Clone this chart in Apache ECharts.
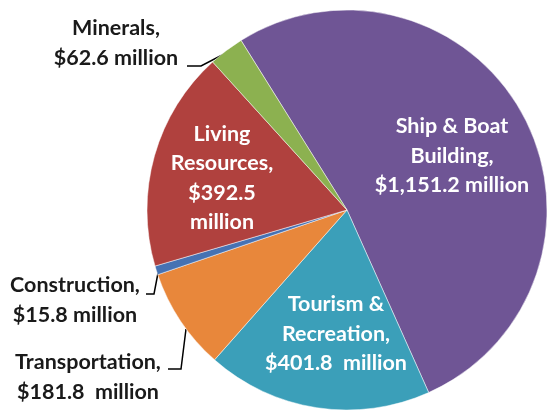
<!DOCTYPE html>
<html>
<head>
<meta charset="utf-8">
<script src="https://cdn.jsdelivr.net/npm/echarts@6/dist/echarts.min.js"></script>
<style>
  html, body { margin: 0; padding: 0; background: #fff; }
  #chart { width: 548px; height: 414px; }
</style>
</head>
<body>
<div id="chart"></div>
<script>
// slices, clockwise from the top-left edge of the purple slice
const names = ["Ship & Boat\nBuilding", "Tourism &\nRecreation", "Transportation", "Construction", "Living\nResources", "Minerals"];
const values = [1151.2, 401.8, 181.8, 15.8, 392.5, 62.6];
const colors = ["#6f5595", "#3b9fb9", "#e8873b", "#4672b3", "#b0413e", "#8cb150"];
// which labels sit outside the pie with a leader line
const outside = [false, false, true, true, false, true];

// label placement (centre of the text block) and leader lines
const labelPos = [[452, 156], [336, 334], [88, 377], [75, 300], [222, 178], [116, 43]];
const leaders = {
  2: [[186, 329], [181, 369], [168, 369]],
  3: [[158, 273], [154, 294], [146, 294]],
  5: [[228, 52], [201, 66], [187, 66]]
};

const fmt = (v) => v.toLocaleString("en-US", { minimumFractionDigits: 1, maximumFractionDigits: 1 });

const labelText = (i) => {
  const money = "$" + fmt(values[i]);
  if (i === 4) return names[i] + ",\n" + money + "\nmillion";
  if (i === 1 || i === 2) return names[i] + ",\n" + money + "  million";
  return names[i] + ",\n" + money + " million";
};

const chart = echarts.init(document.getElementById("chart"));

const data = values.map((v, i) => ({
  value: v,
  name: names[i],
  itemStyle: { color: colors[i] },
  label: outside[i]
    ? { position: "outside", color: "#1a1a1a" }
    : { position: "inside", color: "#ffffff" },
  labelLine: { show: outside[i] }
}));

chart.setOption({
  animation: false,
  series: [
    {
      type: "pie",
      center: [347, 210],
      radius: 200,
      startAngle: 122,
      clockwise: true,
      avoidLabelOverlap: false,
      itemStyle: { borderColor: "rgba(255,255,255,0.6)", borderWidth: 0.8 },
      label: {
        formatter: (p) => labelText(p.dataIndex),
        fontFamily: "Lato",
        fontWeight: "bold",
        fontSize: 21.5,
        lineHeight: 29.5,
        align: "center"
      },
      labelLine: {
        lineStyle: { color: "#000", width: 1.5 }
      },
      labelLayout: (params) => {
        const i = params.dataIndex;
        const res = {
          x: labelPos[i][0],
          y: labelPos[i][1],
          align: "center",
          verticalAlign: "middle"
        };
        if (leaders[i]) res.labelLinePoints = leaders[i];
        return res;
      },
      data: data
    }
  ]
});
</script>
</body>
</html>
